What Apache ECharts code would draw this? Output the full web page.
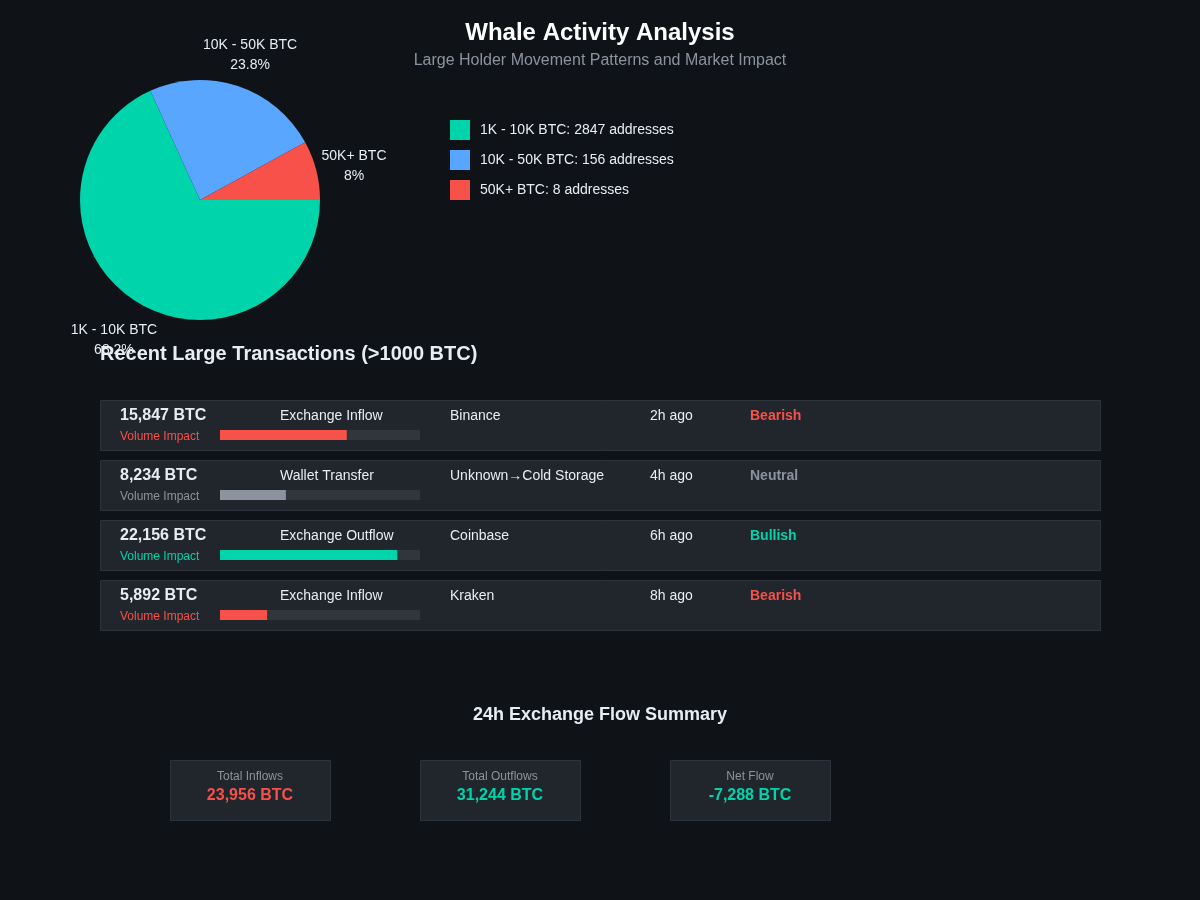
<!DOCTYPE html>
<html>
<head>
<meta charset="utf-8">
<script src="https://cdn.jsdelivr.net/npm/echarts@6/dist/echarts.min.js"></script>
<style>
html,body{margin:0;padding:0;background:#0f1318;}
#chart{width:1200px;height:900px;}
</style>
</head>
<body>
<div id="chart"></div>
<script>
// ---- Data ----
var tierNames = ['1K - 10K BTC', '10K - 50K BTC', '50K+ BTC'];
var tierPercents = [68.2, 23.8, 8];
var tierAddresses = [2847, 156, 8];
var tierColors = ['#00d4aa', '#58a6ff', '#f85149'];

var txAmounts = [15847, 8234, 22156, 5892];
var txTypes = ['Exchange Inflow', 'Wallet Transfer', 'Exchange Outflow', 'Exchange Inflow'];
var txVenues = ['Binance', 'Unknown\u2192Cold Storage', 'Coinbase', 'Kraken'];
var txTimes = ['2h ago', '4h ago', '6h ago', '8h ago'];
var txSentiments = ['Bearish', 'Neutral', 'Bullish', 'Bearish'];
var impactScaleMax = 25000;

var flowLabels = ['Total Inflows', 'Total Outflows', 'Net Flow'];
var flowValues = ['23,956 BTC', '31,244 BTC', '-7,288 BTC'];
var flowColors = ['#f85149', '#00d4aa', '#00d4aa'];

var sentimentColors = { Bearish: '#f85149', Neutral: '#8b949e', Bullish: '#00d4aa' };
var FONT = '"Liberation Sans", Arial, Helvetica, sans-serif';

function fmt(n) { return n.toLocaleString('en-US'); }

function txt(x, y, text, color, size, weight, align, z) {
  return {
    type: 'text', x: x, y: y + 1, z: z || 5, silent: true,
    style: {
      text: text, fill: color,
      font: (weight || 'normal') + ' ' + size + 'px ' + FONT,
      textAlign: align || 'left', align: align || 'left',
      textVerticalAlign: 'middle', verticalAlign: 'middle'
    }
  };
}

var graphics = [];
graphics.push(txt(600, 32, 'Whale Activity Analysis', '#ffffff', 24, 'bold', 'center'));
graphics.push(txt(600, 60, 'Large Holder Movement Patterns and Market Impact', '#8b949e', 16, 'normal', 'center'));
graphics.push(txt(100, 353, 'Recent Large Transactions (>1000 BTC)', '#e6edf3', 20, 'bold', 'left', 20));

txAmounts.forEach(function (amt, i) {
  var top = 400 + i * 60;
  var col = sentimentColors[txSentiments[i]];
  graphics.push({
    type: 'rect', z: 0, silent: true,
    shape: { x: 100.5, y: top + 0.5, width: 1000, height: 50 },
    style: { fill: '#21262d', stroke: '#2d333b', lineWidth: 1 }
  });
  graphics.push(txt(120, top + 15, fmt(amt) + ' BTC', '#e6edf3', 16, 'bold'));
  graphics.push(txt(120, top + 36, 'Volume Impact', col, 12, 'normal'));
  graphics.push(txt(280, top + 15, txTypes[i], '#e6edf3', 14, 'normal'));
  graphics.push(txt(450, top + 15, txVenues[i], '#e6edf3', 14, 'normal'));
  graphics.push(txt(650, top + 15, txTimes[i], '#e6edf3', 14, 'normal'));
  graphics.push(txt(750, top + 15, txSentiments[i], col, 14, 'bold'));
});

graphics.push(txt(600, 714, '24h Exchange Flow Summary', '#e6edf3', 18, 'bold', 'center'));
flowLabels.forEach(function (lab, i) {
  var left = 170 + i * 250;
  graphics.push({
    type: 'rect', z: 0, silent: true,
    shape: { x: left + 0.5, y: 760.5, width: 160, height: 60 },
    style: { fill: '#21262d', stroke: '#2d333b', lineWidth: 1 }
  });
  graphics.push(txt(left + 80, 776, lab, '#8b949e', 12, 'normal', 'center'));
  graphics.push(txt(left + 80, 795, flowValues[i], flowColors[i], 16, 'bold', 'center'));
});

var pieData = tierNames.map(function (n, i) {
  return { name: n, value: tierPercents[i], itemStyle: { color: tierColors[i] } };
});
var pieLabelData = tierNames.map(function (n, i) {
  return { name: n, value: tierPercents[i] };
});

var chart = echarts.init(document.getElementById('chart'), null, { renderer: 'canvas' });
chart.setOption({
  backgroundColor: '#0f1318',
  animation: false,
  textStyle: { fontFamily: FONT },
  legend: {
    orient: 'vertical', left: 450, top: 120, padding: 0,
    itemWidth: 20, itemHeight: 20, itemGap: 10, icon: 'rect',
    data: tierNames,
    textStyle: { color: '#e6edf3', fontSize: 14, fontFamily: FONT, padding: [0, 0, 0, 5] },
    formatter: function (name) {
      var i = tierNames.indexOf(name);
      return name + ': ' + tierAddresses[i] + ' addresses';
    },
    selectedMode: false
  },
  grid: { left: 220, width: 200, top: 405, height: 240 },
  xAxis: { type: 'value', min: 0, max: impactScaleMax, show: false },
  yAxis: { type: 'category', data: txAmounts.map(function (a, i) { return 'tx' + i; }), inverse: true, show: false },
  graphic: { elements: graphics },
  series: [
    {
      type: 'pie', center: [200, 200], radius: [0, 120],
      startAngle: 0, clockwise: true, silent: true,
      label: { show: false }, labelLine: { show: false },
      itemStyle: { borderWidth: 0 },
      data: pieData
    },
    {
      type: 'pie', center: [200, 206], radius: [120, 192],
      startAngle: 0, clockwise: true, silent: true, legendHoverLink: false,
      itemStyle: { color: 'rgba(0,0,0,0)', borderWidth: 0 },
      label: {
        show: true, position: 'inside', rotate: 0,
        color: '#e6edf3', fontSize: 14, lineHeight: 20, fontFamily: FONT,
        formatter: function (p) { return p.name + '\n' + p.value + '%'; }
      },
      labelLine: { show: false },
      data: pieLabelData
    },
    {
      type: 'bar', barWidth: 10, silent: true,
      showBackground: true,
      backgroundStyle: { color: '#30363d' },
      data: txAmounts.map(function (a, i) {
        return { value: a, itemStyle: { color: sentimentColors[txSentiments[i]] } };
      })
    }
  ]
});
</script>
</body>
</html>
